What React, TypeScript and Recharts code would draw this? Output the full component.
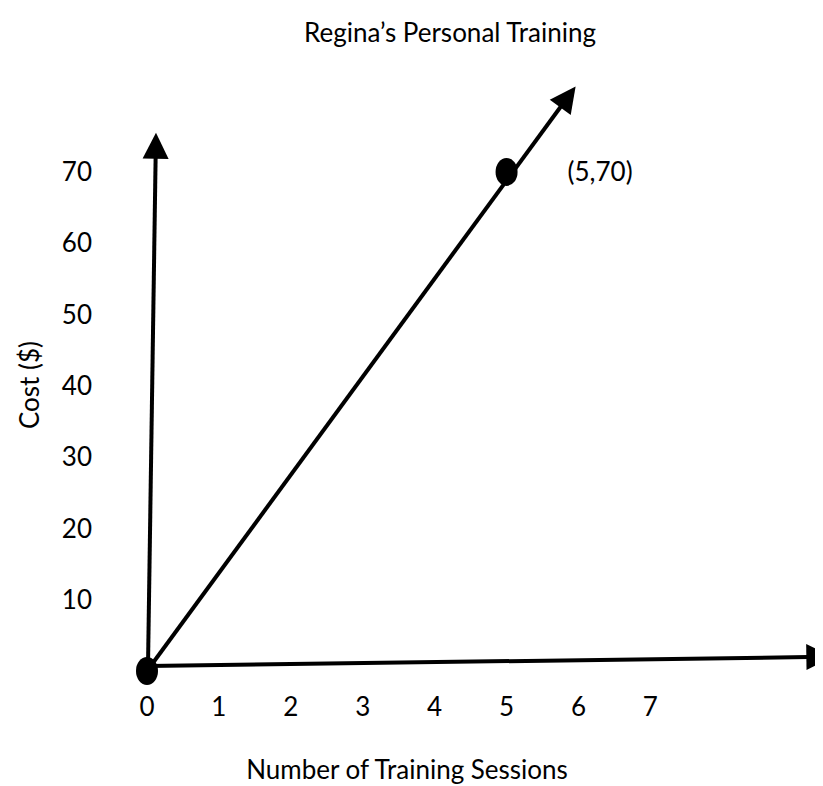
import React from "react";
import {
  ComposedChart,
  XAxis,
  YAxis,
  Scatter,
  ReferenceLine,
  ReferenceDot,
} from "recharts";

// values
const sessionTicks = [0, 1, 2, 3, 4, 5, 6, 7];
const costTicks = [10, 20, 30, 40, 50, 60, 70];
const points = [
  { x: 0, y: 0 },
  { x: 5, y: 70 },
];
const labelledPoint = { x: 5, y: 70, text: "(5,70)" };

// hand-drawn arrows, in data units (sessions, dollars)
const costAxisArrow = [
  { x: 0.014, y: 0.7 },
  { x: 0.125, y: 75.5 },
];
const sessionAxisArrow = [
  { x: 0.014, y: 0.7 },
  { x: 9.53, y: 2.0 },
];
const trendArrow = [
  { x: 0, y: 0 },
  { x: 5.96, y: 82 },
];

const FONT = "Lato, 'Open Sans', sans-serif";
const FS = 26;

function Arrow(props: any) {
  const { x1, y1, x2, y2 } = props;
  const dx = x2 - x1;
  const dy = y2 - y1;
  const len = Math.sqrt(dx * dx + dy * dy) || 1;
  const ux = dx / len;
  const uy = dy / len;
  const head = 26;
  const half = 13;
  const bx = x2 - ux * head;
  const by = y2 - uy * head;
  const pts = [
    `${x2},${y2}`,
    `${bx - uy * half},${by + ux * half}`,
    `${bx + uy * half},${by - ux * half}`,
  ].join(" ");
  return (
    <g>
      <line x1={x1} y1={y1} x2={bx + ux * 2} y2={by + uy * 2} stroke="#000" strokeWidth={4} />
      <polygon points={pts} fill="#000" />
    </g>
  );
}

function Blob(props: any) {
  const { cx, cy } = props;
  return <ellipse cx={cx} cy={cy} rx={11} ry={14} fill="#000" />;
}

export default function App() {
  return (
    <div style={{ position: "relative", width: 815, height: 778, fontFamily: FONT, color: "#000" }}>
      <div
        style={{
          position: "absolute",
          left: 442,
          top: 24,
          transform: "translate(-50%, -50%)",
          fontSize: FS,
          lineHeight: 1,
          whiteSpace: "nowrap",
        }}
      >
        Regina’s Personal Training
      </div>
      <div
        style={{
          position: "absolute",
          left: 399,
          top: 761,
          transform: "translate(-50%, -50%)",
          fontSize: FS,
          lineHeight: 1,
          whiteSpace: "nowrap",
        }}
      >
        Number of Training Sessions
      </div>
      <div
        style={{
          position: "absolute",
          left: 21,
          top: 377,
          transform: "translate(-50%, -50%) rotate(-90deg)",
          fontSize: FS,
          lineHeight: 1,
          whiteSpace: "nowrap",
        }}
      >
        Cost ($)
      </div>
      <ComposedChart
        width={815}
        height={778}
        margin={{ top: 57, right: 0, bottom: 0, left: 0 }}
        style={{ position: "absolute", left: 0, top: 0 }}
      >
        <XAxis
          type="number"
          dataKey="x"
          domain={[0, 9.4]}
          ticks={sessionTicks}
          axisLine={false}
          tickLine={false}
          tickMargin={21}
          height={115}
          interval={0}
          tick={{ fill: "#000", fontSize: FS }}
        />
        <YAxis
          type="number"
          dataKey="y"
          domain={[0, 85]}
          ticks={costTicks}
          axisLine={false}
          tickLine={false}
          tickMargin={49}
          width={139}
          interval={0}
          tick={{ fill: "#000", fontSize: FS }}
        />
        <ReferenceLine segment={costAxisArrow} ifOverflow="visible" shape={Arrow} />
        <ReferenceLine segment={sessionAxisArrow} ifOverflow="visible" shape={Arrow} />
        <ReferenceLine segment={trendArrow} ifOverflow="visible" shape={Arrow} />
        <Scatter data={points} shape={Blob} isAnimationActive={false} />
        <ReferenceDot
          x={labelledPoint.x}
          y={labelledPoint.y}
          r={1}
          fill="none"
          stroke="none"
          ifOverflow="visible"
          label={{ value: labelledPoint.text, position: "right", offset: 60, fill: "#000", fontSize: FS }}
        />
      </ComposedChart>
    </div>
  );
}
